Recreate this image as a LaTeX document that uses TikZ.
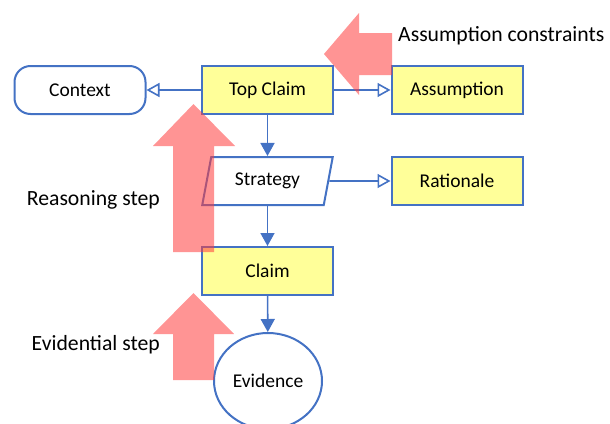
\documentclass[tikz,border=0pt]{standalone}
\usepackage{fontspec}
\setmainfont{Carlito}
\usetikzlibrary{arrows.meta,shapes.geometric}
\definecolor{gblue}{RGB}{68,114,196}
\definecolor{gyellow}{RGB}{255,255,153}
\definecolor{gred}{RGB}{255,60,60}
\begin{document}
\begin{tikzpicture}[x=1pt,y=-1pt,
  box/.style={draw=gblue, line width=2pt, fill=gyellow, minimum width=131pt, minimum height=48pt, inner sep=0pt, font=\fontsize{19.5}{22}\selectfont},
  ctxbox/.style={box, fill=white, rounded corners=16pt},
  stratbox/.style={box, fill=white, trapezium, trapezium left angle=72, trapezium right angle=108, trapezium stretches=true},
  evidbox/.style={box, fill=white, ellipse, minimum width=108pt, minimum height=96pt},
  conn/.style={draw=gblue, line width=1.6pt},
  filledtip/.style={conn, -{Triangle[length=13pt,width=14pt]}},
  opentip/.style={conn, -{Triangle[open,length=13pt,width=14pt]}},
  bigarrow/.style={fill=gred, fill opacity=0.55},
  lbl/.style={font=\fontsize{21.7}{24}\selectfont, inner sep=0pt}
]
\useasboundingbox (0,0) rectangle (610,423);

\node[ctxbox] (ctx) at (80,90) {Context};
\node[box] (top) at (267.5,90) {Top Claim};
\node[box] (asm) at (457,90) {Assumption};
\node[stratbox] (strat) at (267.5,181) {Strategy};
\node[box] (rat) at (457,181) {Rationale};
\node[box] (claim) at (267.5,271) {Claim};
\node[evidbox] (evid) at (268,381) {Evidence};

\node[lbl, anchor=base west] (lblA) at (398,41) {Assumption constraints};
\node[lbl, anchor=base east] (lblR) at (160,205) {Reasoning step};
\node[lbl, anchor=base east] (lblE) at (160,350) {Evidential step};

\draw[opentip] (top) -- (ctx);
\draw[opentip] (top) -- (asm);
\draw[opentip] (strat.east) -- (rat.west);
\draw[filledtip] (top) -- (strat);
\draw[filledtip] (strat) -- (claim);
\draw[filledtip] (claim) -- (evid);

% big translucent arrows
\fill[bigarrow] (193.5,104) -- (235,146) -- (214,146) -- (214,252) -- (173,252) -- (173,146) -- (153,146) -- cycle;
\fill[bigarrow] (193.5,293) -- (234,334) -- (214,334) -- (214,380) -- (173,380) -- (173,334) -- (153,334) -- cycle;
\fill[bigarrow] (324,54) -- (359,13) -- (359,33) -- (392,33) -- (392,75) -- (359,75) -- (359,95) -- cycle;
\end{tikzpicture}
\end{document}
